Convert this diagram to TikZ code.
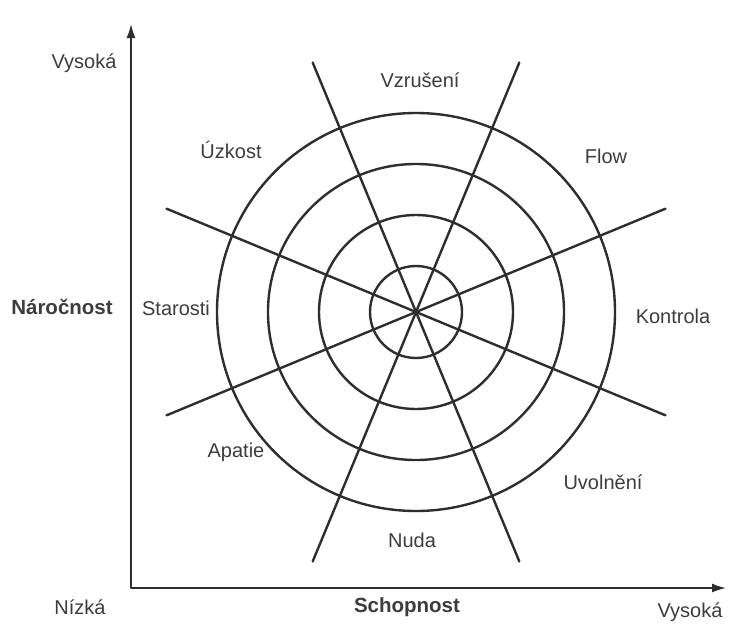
\documentclass[tikz,border=0pt]{standalone}
\usepackage{fontspec}
\setmainfont{Liberation Sans}
\usetikzlibrary{arrows.meta}
\definecolor{ink}{HTML}{2E2E2E}
\definecolor{txt}{HTML}{3C3C3C}
\begin{document}
\begin{tikzpicture}[x=1pt,y=-1pt,line cap=round,line join=round,>={Latex[length=14pt,width=9pt]},
  lbl/.style={text=txt,font=\fontsize{20}{24}\selectfont,inner sep=0pt},
  axlbl/.style={text=txt,font=\fontsize{20.5}{24}\selectfont\bfseries,inner sep=0pt}]
  \useasboundingbox (0,0) rectangle (738,629);
  % axes
  \coordinate (O) at (131,588);
  \coordinate (ytop) at (131,24);
  \coordinate (xend) at (726,588);
  \draw[ink,line width=1.5pt,<->] (ytop) -- (O) -- (xend);
  % rings and spokes
  \coordinate (c) at (416,312);
  \foreach \r in {46,97,148,199}
    \draw[ink,line width=2.4pt] (c) circle[radius=\r pt];
  \foreach \a in {22.5,67.5,112.5,157.5}
    \draw[ink,line width=2.4pt] (c) ++(\a:270) -- ++(\a+180:540);
  % axis labels
  \node[lbl] (yhigh) at (84,63) {Vysoká};
  \node[axlbl] (ylab) at (62,307) {Náročnost};
  \node[lbl] (xlow) at (80,607) {Nízká};
  \node[axlbl] (xlab) at (407,607) {Schopnost};
  \node[lbl] (xhigh) at (690,612) {Vysoká};
  % states
  \node[lbl] (vzruseni) at (420,80) {Vzrušení};
  \node[lbl] (flow) at (606,156) {Flow};
  \node[lbl] (kontrola) at (673,316) {Kontrola};
  \node[lbl] (uvolneni) at (603,482) {Uvolnění};
  \node[lbl] (nuda) at (412,540) {Nuda};
  \node[lbl] (apatie) at (236,452) {Apatie};
  \node[lbl] (starosti) at (176,308) {Starosti};
  \node[lbl] (uzkost) at (231,150) {Úzkost};
\end{tikzpicture}
\end{document}
